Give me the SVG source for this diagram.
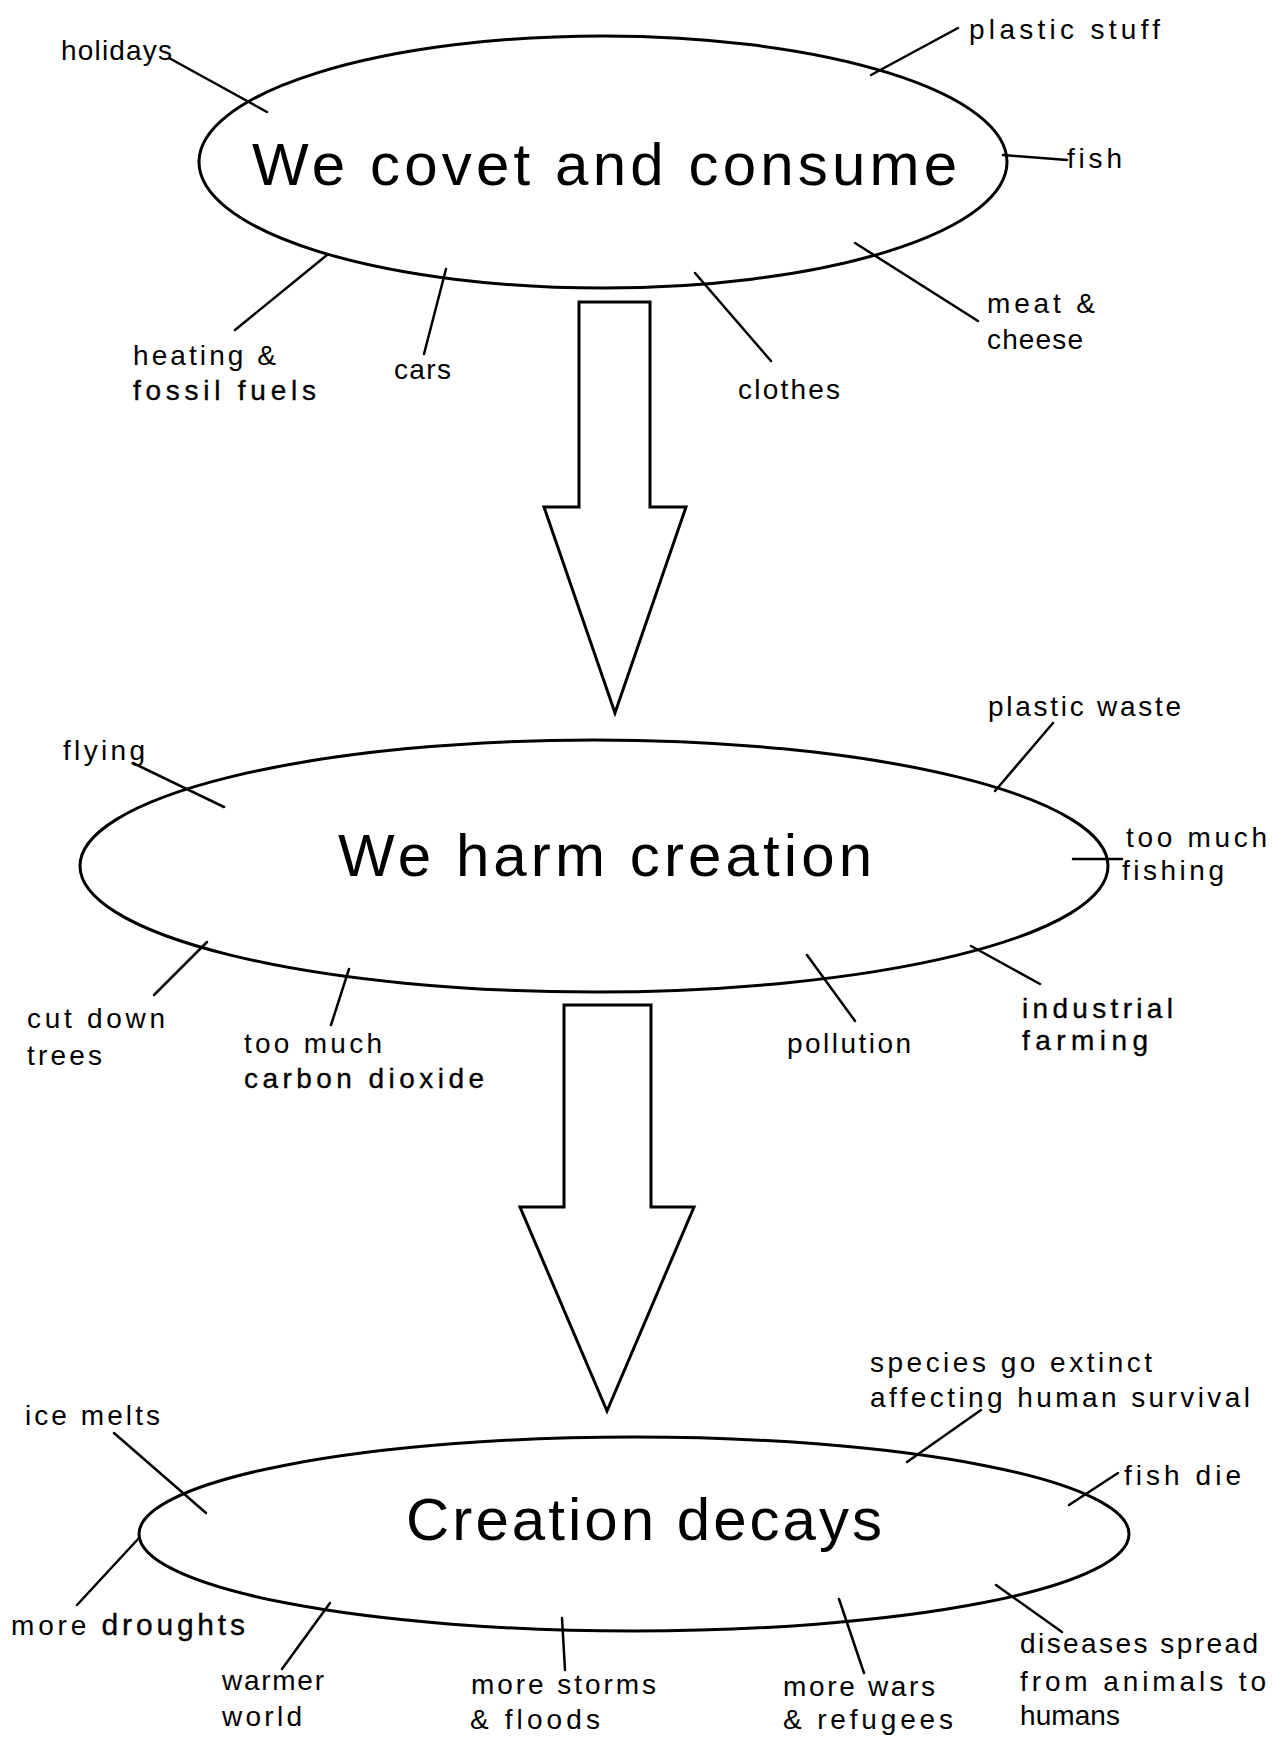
<svg xmlns="http://www.w3.org/2000/svg" width="1272" height="1737" viewBox="0 0 1272 1737">
<style>
.bg{fill:#fff}
.oval{fill:none;stroke:#000;stroke-width:3}
.title{font-family:"Liberation Sans",Arial,sans-serif;font-size:60px;fill:#000}
.lbl{font-family:"Liberation Sans",Arial,sans-serif;font-size:28px;fill:#000}
.hv{stroke:#000;stroke-width:0.35}
.ln{stroke:#000;stroke-width:2.5;fill:none;stroke-linecap:round}
.blk{fill:#fff;stroke:#000;stroke-width:3;stroke-linejoin:miter}
</style>
<rect class="bg" x="0" y="0" width="1272" height="1737"/>

<g id="connectors">
  <polygon class="blk" points="579,302 650,302 650,507 686,507 615,713 544,507 579,507"/>
  <polygon class="blk" points="564,1005 651,1005 651,1207 694,1207 607,1411 520,1207 564,1207"/>
  <line class="ln" x1="169" y1="58" x2="267" y2="112"/>
  <line class="ln" x1="327" y1="255" x2="235" y2="330"/>
  <line class="ln" x1="446" y1="269" x2="424" y2="354"/>
  <line class="ln" x1="871" y1="75" x2="958" y2="28"/>
  <line class="ln" x1="1003" y1="155" x2="1067" y2="160"/>
  <line class="ln" x1="855" y1="243" x2="978" y2="321"/>
  <line class="ln" x1="695" y1="273" x2="771" y2="361"/>
  <line class="ln" x1="133" y1="763" x2="224" y2="807"/>
  <line class="ln" x1="207" y1="942" x2="154" y2="995"/>
  <line class="ln" x1="349" y1="969" x2="331" y2="1025"/>
  <line class="ln" x1="1053" y1="723" x2="995" y2="791"/>
  <line class="ln" x1="1073" y1="859" x2="1122" y2="859"/>
  <line class="ln" x1="971" y1="946" x2="1040" y2="984"/>
  <line class="ln" x1="807" y1="955" x2="855" y2="1021"/>
  <line class="ln" x1="114" y1="1433" x2="206" y2="1513"/>
  <line class="ln" x1="139" y1="1538" x2="77" y2="1605"/>
  <line class="ln" x1="330" y1="1603" x2="282" y2="1669"/>
  <line class="ln" x1="562" y1="1618" x2="565" y2="1670"/>
  <line class="ln" x1="981" y1="1410" x2="907" y2="1462"/>
  <line class="ln" x1="1118" y1="1473" x2="1069" y2="1505"/>
  <line class="ln" x1="996" y1="1585" x2="1062" y2="1632"/>
  <line class="ln" x1="839" y1="1599" x2="864" y2="1673"/>
</g>

<g id="node-covet">
  <ellipse class="oval" cx="603" cy="162" rx="404" ry="126"/>
  <text class="title" x="252" y="185" textLength="705" lengthAdjust="spacing">We covet and consume</text>
</g>
<g id="node-harm">
  <ellipse class="oval" cx="594" cy="866" rx="514" ry="126"/>
  <text class="title" x="338" y="876" textLength="534" lengthAdjust="spacing">We harm creation</text>
</g>
<g id="node-decays">
  <ellipse class="oval" cx="634" cy="1534" rx="495" ry="97"/>
  <text class="title" x="406" y="1540" textLength="476" lengthAdjust="spacing">Creation decays</text>
</g>

<g id="lbl-holidays"><text class="lbl" x="61" y="60" textLength="111" lengthAdjust="spacing">holidays</text></g>
<g id="lbl-heating"><text class="lbl" x="133" y="365" textLength="143" lengthAdjust="spacing">heating &amp;</text><text class="lbl hv" x="133" y="400" font-size="30" textLength="183" lengthAdjust="spacing">fossil fuels</text></g>
<g id="lbl-cars"><text class="lbl" x="394" y="379" textLength="57" lengthAdjust="spacing">cars</text></g>
<g id="lbl-clothes"><text class="lbl" x="738" y="399" textLength="102" lengthAdjust="spacing">clothes</text></g>
<g id="lbl-meat"><text class="lbl" x="987" y="313" textLength="108" lengthAdjust="spacing">meat &amp;</text><text class="lbl" x="987" y="349" textLength="96" lengthAdjust="spacing">cheese</text></g>
<g id="lbl-fish"><text class="lbl" x="1067" y="168" textLength="55" lengthAdjust="spacing">fish</text></g>
<g id="lbl-plastic-stuff"><text class="lbl" x="969" y="39" textLength="191" lengthAdjust="spacing">plastic stuff</text></g>

<g id="lbl-flying"><text class="lbl" x="63" y="760" textLength="82" lengthAdjust="spacing">flying</text></g>
<g id="lbl-cut-down"><text class="lbl" x="27" y="1028" textLength="138" lengthAdjust="spacing">cut down</text><text class="lbl" x="27" y="1065" textLength="75" lengthAdjust="spacing">trees</text></g>
<g id="lbl-co2"><text class="lbl" x="244" y="1053" textLength="138" lengthAdjust="spacing">too much</text><text class="lbl hv" x="244" y="1088" font-size="30" textLength="240" lengthAdjust="spacing">carbon dioxide</text></g>
<g id="lbl-plastic-waste"><text class="lbl" x="988" y="716" textLength="193" lengthAdjust="spacing">plastic waste</text></g>
<g id="lbl-fishing"><text class="lbl" x="1126" y="847" textLength="141" lengthAdjust="spacing">too much</text><text class="lbl" x="1122" y="880" textLength="102" lengthAdjust="spacing">fishing</text></g>
<g id="lbl-pollution"><text class="lbl" x="787" y="1053" textLength="124" lengthAdjust="spacing">pollution</text></g>
<g id="lbl-industrial"><text class="lbl hv" x="1022" y="1018" font-size="30" textLength="151" lengthAdjust="spacing">industrial</text><text class="lbl hv" x="1022" y="1050" font-size="30" textLength="126" lengthAdjust="spacing">farming</text></g>

<g id="lbl-ice"><text class="lbl" x="25" y="1425" textLength="135" lengthAdjust="spacing">ice melts</text></g>
<g id="lbl-droughts"><text class="lbl" x="11" y="1635" textLength="234" lengthAdjust="spacing">more <tspan class="hv" font-size="30">droughts</tspan></text></g>
<g id="lbl-warmer"><text class="lbl" x="222" y="1690" textLength="102" lengthAdjust="spacing">warmer</text><text class="lbl" x="222" y="1726" textLength="80" lengthAdjust="spacing">world</text></g>
<g id="lbl-storms"><text class="lbl" x="471" y="1694" textLength="185" lengthAdjust="spacing">more storms</text><text class="lbl" x="470" y="1729" textLength="130" lengthAdjust="spacing">&amp; floods</text></g>
<g id="lbl-wars"><text class="lbl" x="783" y="1696" textLength="152" lengthAdjust="spacing">more wars</text><text class="lbl" x="783" y="1729" textLength="170" lengthAdjust="spacing">&amp; refugees</text></g>
<g id="lbl-diseases"><text class="lbl" x="1020" y="1653" textLength="238" lengthAdjust="spacing">diseases spread</text><text class="lbl" x="1020" y="1691" textLength="246" lengthAdjust="spacing">from animals to</text><text class="lbl" x="1020" y="1725" textLength="100" lengthAdjust="spacing">humans</text></g>
<g id="lbl-species"><text class="lbl" x="870" y="1372" textLength="282" lengthAdjust="spacing">species go extinct</text><text class="lbl" x="870" y="1407" textLength="380" lengthAdjust="spacing">affecting human survival</text></g>
<g id="lbl-fish-die"><text class="lbl" x="1124" y="1485" textLength="117" lengthAdjust="spacing">fish die</text></g>
</svg>
